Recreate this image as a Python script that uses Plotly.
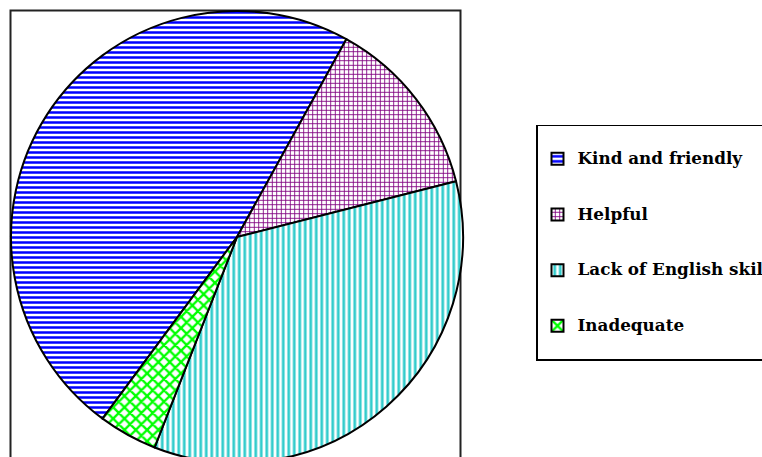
import plotly.graph_objects as go

labels = ["Kind and friendly", "Helpful", "Lack of English skills", "Inadequate"]
values = [47.9, 13.0, 34.9, 4.2]
pattern_shapes = ["-", "+", "|", "x"]
pattern_colors = ["#0000FF", "#800080", "#33CCCC", "#00FF00"]

W, H = 880, 470

legend_labels = [" <br><span style='font-size:16.8px'>" + l + "</span><br> " for l in labels]

fig = go.Figure(go.Pie(
    labels=legend_labels,
    values=values,
    sort=False,
    direction="clockwise",
    rotation=216.5,
    textinfo="none",
    hoverinfo="percent",
    marker=dict(
        colors=["white"] * 4,
        line=dict(color="black", width=2),
        pattern=dict(
            shape=pattern_shapes,
            fgcolor=pattern_colors,
            bgcolor="white",
            fgopacity=1,
            size=[5, 4.5, 5.5, 8],
            solidity=[0.5, 0.35, 0.5, 0.5],
            fillmode="overlay",
        ),
    ),
    domain=dict(x=[11 / W, 463 / W], y=[7 / H, 459 / H]),
))

fig.add_shape(type="rect", xref="paper", yref="paper",
              x0=10.5 / W, x1=460.5 / W, y0=-0.2, y1=1 - 10.5 / H,
              line=dict(color="#222222", width=2), layer="below")

fig.update_layout(
    width=W, height=H,
    margin=dict(l=0, r=0, t=0, b=0, autoexpand=False),
    paper_bgcolor="white",
    plot_bgcolor="white",
    showlegend=True,
    legend=dict(
        x=536 / W, y=1 - 124.5 / H, xanchor="left", yanchor="top",
        bgcolor="white", bordercolor="black", borderwidth=1.5,
        font=dict(family="DejaVu Serif", size=13.5, color="black", weight="bold"),
        traceorder="normal",
    ),
)

fig.write_html("out.html")
